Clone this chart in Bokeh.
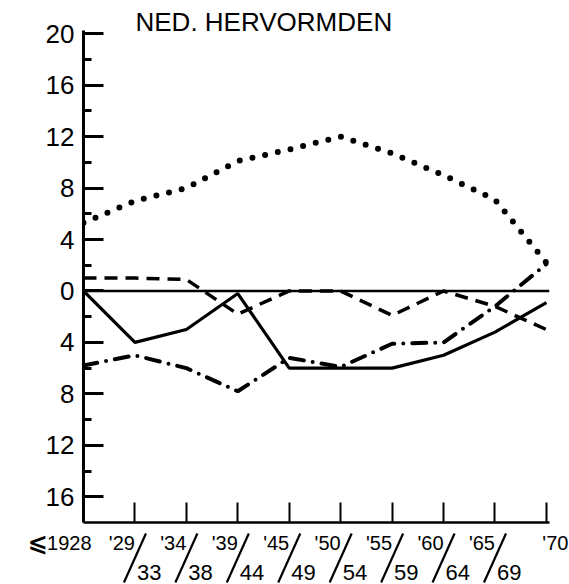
from bokeh.plotting import figure
from bokeh.models import FixedTicker, Span, Range1d
from bokeh.layouts import column
from bokeh.core.properties import value
from bokeh.embed import file_html
from bokeh.resources import INLINE

# ---- data ----
periods_top = ["1928", "'29", "'34", "'39", "'45", "'50", "'55", "'60", "'65", "'70"]
periods_bottom = ["", "33", "38", "44", "49", "54", "59", "64", "69", ""]
dotted = [5.3, 7.0, 8.0, 10.1, 11.0, 12.0, 10.7, 9.0, 7.1, 2.2]
dashed = [1.0, 1.0, 0.9, -1.8, 0.0, 0.0, -1.9, 0.0, -1.2, -3.0]
solid = [0.0, -4.0, -3.0, -0.2, -6.0, -6.0, -6.0, -5.0, -3.2, -0.9]
dashdot = [-5.8, -5.0, -6.0, -7.8, -5.2, -5.9, -4.1, -4.0, -1.2, 2.1]
y_major = [-16, -12, -8, -4, 0, 4, 8, 12, 16, 20]
y_minor = [-14, -10, -6, -2, 2, 6, 10, 14, 18]
title_text = "NED. HERVORMDEN"
break_mark = "\u2a7d"

FONT = "Liberation Sans"
x = list(range(len(periods_top)))

W, H = 569, 584
MAIN_H = 525
STRIP_H = H - MAIN_H
BL, BR = 83, 20
X_END = 9.06
ppu = (W - BL - BR) / X_END

p = figure(width=W, height=MAIN_H, output_backend="svg", toolbar_location=None,
           x_range=Range1d(0, X_END), y_range=Range1d(-18, 20.25),
           min_border_left=BL, min_border_right=BR, min_border_top=30, min_border_bottom=3,
           title=title_text)
p.frame_align = False
p.outline_line_color = None
p.grid.visible = False
p.title.text_font = FONT
p.title.text_font_size = "26px"
p.title.text_font_style = "normal"
p.title.align = "left"
p.title.offset = 52
p.title.standoff = -12
p.title.text_color = "black"

# left axis
ya = p.yaxis[0]
ya.ticker = FixedTicker(ticks=y_major, minor_ticks=y_minor)
ya.major_label_overrides = {t: str(abs(t)) for t in y_major}
ya.major_tick_in = 20
ya.major_tick_out = 0
ya.minor_tick_in = 8
ya.minor_tick_out = 0
ya.axis_line_width = 3
ya.major_tick_line_width = 3
ya.minor_tick_line_width = 3
ya.major_label_text_font = FONT
ya.major_label_text_font_size = "26px"
ya.major_label_text_color = "black"
ya.major_label_standoff = 9

# bottom axis (ticks only; labels are drawn in the strip below)
xa = p.xaxis[0]
xa.ticker = FixedTicker(ticks=x[1:])
xa.major_label_text_font_size = "0px"
xa.major_label_text_color = None
xa.major_label_standoff = 0
xa.major_tick_in = 20
xa.major_tick_out = 0
xa.minor_tick_line_color = None
xa.axis_line_width = 2.5
xa.major_tick_line_width = 2

p.add_layout(Span(location=0, dimension="width", line_color="black", line_width=2.5))

# series
p.line(x, dotted, line_color="black", line_width=6, line_dash="0 13", line_cap="round")
p.line(x, dashed, line_color="black", line_width=3.5, line_dash="13 8")
p.line(x, solid, line_color="black", line_width=3.2)
p.line(x, dashdot, line_color="black", line_width=4, line_dash="14 9 0 9", line_cap="round")

# ---- strip with the period labels (same x scale as the chart) ----
s = figure(width=W, height=STRIP_H, output_backend="svg", toolbar_location=None,
           x_range=Range1d(-BL / ppu, X_END + BR / ppu), y_range=Range1d(0, STRIP_H),
           x_axis_location=None, y_axis_location=None, min_border=0)
s.frame_align = False
s.grid.visible = False
s.outline_line_color = None

y1 = STRIP_H - 17   # first label row (centre)
y2 = 12             # second label row (centre)

top_x = []
for i, t in enumerate(periods_top):
    if i == 0:
        top_x.append(i + 8 / ppu)
    elif i == len(periods_top) - 1:
        top_x.append(i + 22 / ppu)
    else:
        top_x.append(i)
s.text(x=top_x, y=[y1] * len(top_x), text=periods_top, text_align="right",
       text_baseline="middle", text_font=value(FONT), text_font_size="20px", text_color="black")

# axis-break mark before the first period
s.text(x=[-36 / ppu], y=[y1], text=[break_mark], text_align="right", text_baseline="middle",
       text_font=value("DejaVu Sans"), text_font_size="24px", text_font_style="bold",
       text_color="black")

bx, bt = [], []
for i, t in enumerate(periods_bottom):
    if t:
        bx.append(i + 2 / ppu)
        bt.append(t)
s.text(x=bx, y=[y2] * len(bx), text=bt, text_align="left",
       text_baseline="middle", text_font=value(FONT), text_font_size="22px", text_color="black")

sx = [i for i, t in enumerate(periods_bottom) if t]
s.segment(x0=[i + 11 / ppu for i in sx], y0=[STRIP_H - 8] * len(sx),
          x1=[i - 11 / ppu for i in sx], y1=[2] * len(sx), line_color="black", line_width=2.2)

layout = column(p, s, spacing=0)
open("out.html", "w").write(file_html(layout, INLINE))
